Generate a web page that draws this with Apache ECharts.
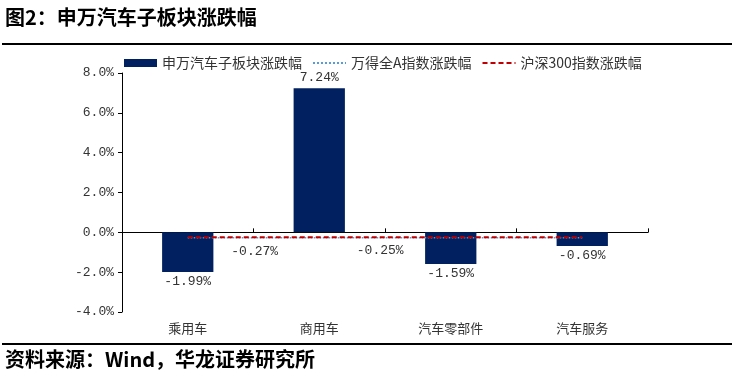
<!DOCTYPE html>
<html><head><meta charset="utf-8">
<script src="https://cdn.jsdelivr.net/npm/echarts@6/dist/echarts.min.js"></script>
<style>html,body{margin:0;padding:0;background:#fff}#c{width:732px;height:378px}</style>
</head><body><div id="c"></div>
<script>
const categories = ['乘用车', '商用车', '汽车零部件', '汽车服务'];
const sectorChange = [-1.99, 7.24, -1.59, -0.69];
const windAChange = [-0.27, -0.27, -0.27, -0.27];
const hs300Change = [-0.25, -0.25, -0.25, -0.25];
const seriesNames = ['申万汽车子板块涨跌幅', '万得全A指数涨跌幅', '沪深300指数涨跌幅'];
const titleText = '图2：申万汽车子板块涨跌幅';
const sourceText = '资料来源：Wind，华龙证券研究所';

const numFont = 'Liberation Mono';
const chart = echarts.init(document.getElementById('c'), null, {renderer: 'canvas'});
const pct = v => v.toFixed(2) + '%';

chart.setOption({
  animation: false,
  backgroundColor: '#fff',
  graphic: [
    {type: 'text', left: 5, top: 7, style: {text: titleText, fontFamily: 'Noto Sans CJK SC', fontWeight: 'bold', fontSize: 20, fill: '#000'}},
    {type: 'line', shape: {x1: 2, y1: 44, x2: 732, y2: 44}, style: {stroke: '#000', lineWidth: 2}},
    {type: 'line', shape: {x1: 2, y1: 344, x2: 732, y2: 344}, style: {stroke: '#000', lineWidth: 2}},
    {type: 'text', left: 5, top: 349, style: {text: sourceText, fontFamily: 'Noto Sans CJK SC', fontWeight: 'bold', fontSize: 20, fill: '#000'}}
  ],
  legend: {
    left: 119, top: 51,
    itemWidth: 33, itemHeight: 8, itemGap: 10,
    textStyle: {fontFamily: 'Noto Sans CJK SC', fontSize: 14, color: '#333'},
    data: [
      {name: seriesNames[0], icon: 'rect'},
      {name: seriesNames[1], itemStyle: {opacity: 0}},
      {name: seriesNames[2], itemStyle: {opacity: 0}}
    ]
  },
  grid: {left: 122, right: 84, top: 73, bottom: 66},
  xAxis: [
    {
      type: 'category', data: categories, position: 'bottom',
      axisLine: {onZero: true, lineStyle: {color: '#000', width: 1}},
      axisTick: {show: true, inside: true, length: 4, lineStyle: {color: '#000'}},
      axisLabel: {show: false}
    },
    {
      type: 'category', data: categories, position: 'bottom',
      axisLine: {show: false, onZero: false}, axisTick: {show: false},
      axisLabel: {fontFamily: 'Noto Sans CJK SC', fontSize: 13, color: '#333', margin: 10}
    }
  ],
  yAxis: {
    type: 'value', min: -4, max: 8, interval: 2,
    axisLine: {show: true, lineStyle: {color: '#000'}},
    axisTick: {show: true, length: 4, lineStyle: {color: '#000'}},
    splitLine: {show: false},
    axisLabel: {formatter: v => v.toFixed(1) + '%', fontFamily: numFont, fontSize: 13, color: '#333', margin: 8}
  },
  series: [
    {
      name: seriesNames[0], type: 'bar', xAxisIndex: 0, barWidth: '39%',
      itemStyle: {color: '#002060'},
      data: sectorChange.map(v => ({
        value: v,
        label: {show: true, position: v >= 0 ? 'top' : 'bottom', distance: v >= 0 ? 4 : 3,
          formatter: p => pct(p.value), fontFamily: numFont, fontSize: 13, color: '#333'}
      })),
      z: 2
    },
    {
      name: seriesNames[1], type: 'line', xAxisIndex: 0, symbol: 'circle', symbolSize: 0.1, showSymbol: true, z: 3,
      lineStyle: {color: '#5B9BD5', type: 'dotted', width: 1.5},
      itemStyle: {color: '#5B9BD5'},
      labelLayout: {hideOverlap: false},
      data: windAChange.map((v, i) => i === 0 ? {
        value: v,
        label: {show: true, position: [67, 14], align: 'center', verticalAlign: 'middle',
          formatter: p => pct(p.value), fontFamily: numFont, fontSize: 13, color: '#333'}
      } : v)
    },
    {
      name: seriesNames[2], type: 'line', xAxisIndex: 0, symbol: 'circle', symbolSize: 0.1, showSymbol: true, z: 4,
      lineStyle: {color: '#C00000', type: [5, 3], width: 2},
      itemStyle: {color: '#C00000'},
      labelLayout: {hideOverlap: false},
      data: hs300Change.map((v, i) => i === 1 ? {
        value: v,
        label: {show: true, position: [61, 13], align: 'center', verticalAlign: 'middle',
          formatter: p => pct(p.value), fontFamily: numFont, fontSize: 13, color: '#333'}
      } : v)
    }
  ]
});
</script></body></html>
